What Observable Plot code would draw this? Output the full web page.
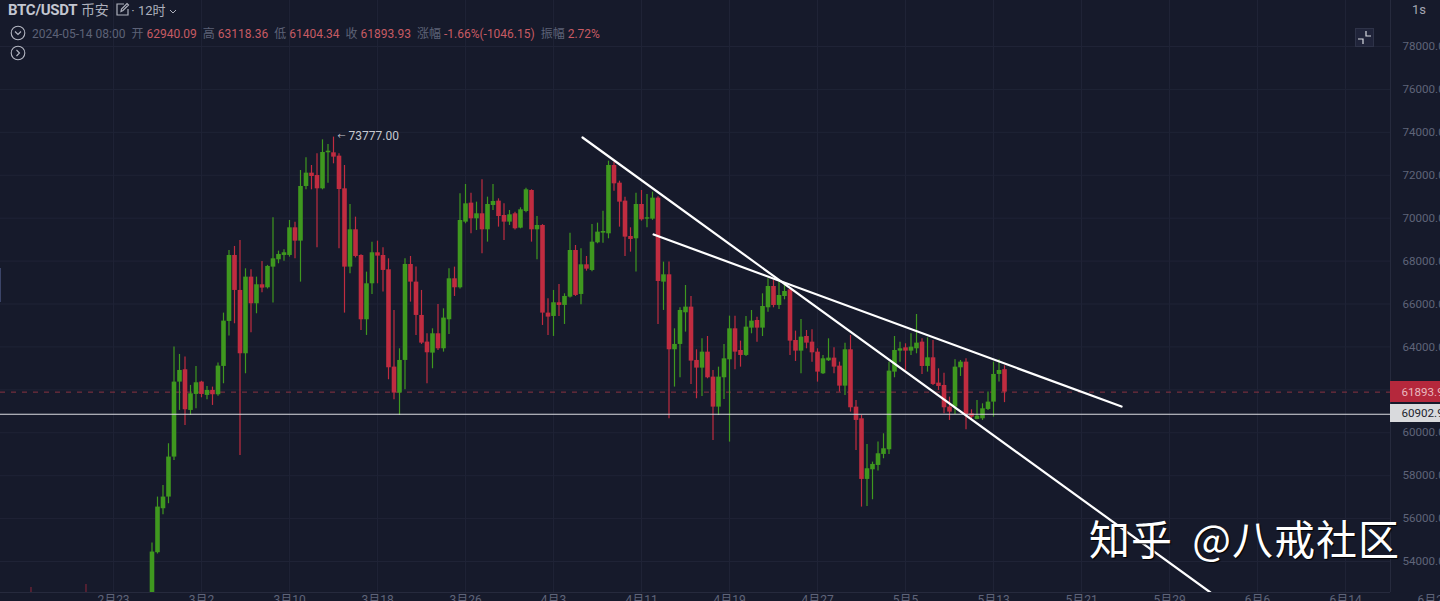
<!DOCTYPE html>
<html lang="zh">
<head>
<meta charset="utf-8">
<title>BTC/USDT 币安 12时</title>
<script src="https://cdn.jsdelivr.net/npm/d3@7"></script>
<script src="https://cdn.jsdelivr.net/npm/@observablehq/plot@0.6"></script>
<style>
html,body{margin:0;padding:0;background:#161a2b;overflow:hidden;width:1440px;height:601px}
#wrap{position:relative;width:1440px;height:601px;overflow:hidden;font-family:Roboto,"Noto Sans CJK SC",sans-serif}
#wrap>svg{display:block}
.ov{position:absolute;white-space:nowrap}
#h1{left:8px;top:1px;font-size:15px;line-height:18px;color:#aeb1bd}
#h1 b{font-weight:700;letter-spacing:-.3px;color:#c3c6d0}
#h2{left:32px;top:27px;font-size:12px;line-height:15px;color:#5d6277}
#h2 span{margin-left:6px}
#h2 .r{color:#c65a63;margin-left:0}
#wm{left:1089px;top:508px;font:400 41px/58px "Noto Sans CJK SC",sans-serif;letter-spacing:1px;word-spacing:9px;color:#fff;text-shadow:1px 1px 1px #000}
</style>
</head>
<body>
<div id="wrap"></div>
<script>
const firstCandle = "2024-02-26T12:00Z";
const opens = [
51730,54410,56460,57003,58867,62361,62935,61041,61786,62361,
61740,61973,61771,63091,65187,68262,66632,63681,67253,66011,
66896,66756,67719,68060,68262,68262,69551,68930,71477,72098,
71990,71368,73046,73046,72890,71368,67719,69458,68262,65265,
66942,68387,68262,67595,63060,61848,63370,67843,67020,65467,
64225,63712,64613,63914,65265,67175,66756,69815,70700,69971,
70204,69458,70592,70794,70126,69815,70204,69536,70312,71290,
69458,69660,65576,65420,66057,65933,66321,68495,66445,67827,
67563,68852,69303,69272,72455,71632,70794,69147,69039,70638,
69955,69955,70933,67020,67361,63867,64116,65591,65855,63370,
63012,63757,62593,61195,62562,63400,64844,63835,63602,64876,
65233,64876,65823,66817,65932,66351,66661,64301,63804,64487,
64223,63757,62748,63353,63478,63105,62173,63866,61195,60651,
57825,58275,58477,58990,59207,62826,63804,63959,63804,63913,
64223,63090,63493,62313,62204,61195,61195,63027,63291,60884,
60620,60651,61086,61428,62717,62940.09];
const highs = [
54860,57003,57547,59488,63992,63650,63526,62206,63091,62400,
62159,62128,63246,65576,68495,68682,68961,67641,67595,67253,
67983,67800,70017,68464,68526,69893,69815,72222,72813,72455,
72999,73651,73434,73777,72999,72455,70638,70048,68300,67486,
68883,68930,68620,68107,65700,63914,68107,68216,67719,66632,
64613,64845,65979,65777,67641,67719,71135,71570,71166,70747,
71788,70980,71570,70902,70669,70359,70281,70483,71400,71322,
70079,69700,66243,66632,66911,66476,69303,68728,68573,68216,
69707,69769,70328,72657,72611,71725,70980,69551,71166,71290,
71104,71213,71000,67952,67952,64845,65824,66864,66352,63867,
64379,64487,62903,63058,64115,65435,65435,64270,65419,65699,
65388,66475,67174,67096,67019,66941,66700,64736,65279,64767,
64798,63913,63602,64379,63959,63291,64177,64534,61505,60807,
59456,58632,59564,59953,63291,64487,64223,64146,64612,65512,
64379,64425,64301,62981,62779,61661,63400,63369,63447,61071,
61505,61350,61894,63291,63400,63118.36];
const lows = [
50900,54350,56180,56693,58711,61041,60342,60808,61119,61631,
61538,61274,61700,62283,64504,65079,58944,62749,64659,65545,
66523,66700,66042,67874,67998,68185,68107,67020,71322,71322,
68620,71322,71632,72533,68573,65576,67408,68150,64768,64535,
66445,66942,66554,62470,61538,60808,62004,66088,64535,64116,
62283,62982,63836,63758,64582,66352,66700,69738,69272,69427,
68340,68883,70359,69582,68961,69660,69450,69505,70250,68883,
68060,65001,64535,64488,65420,65047,66280,66352,65964,67532,
67500,68806,68837,69039,71260,69582,68216,68418,67486,69862,
69551,69900,65047,65700,60652,62128,62563,64690,62252,61584,
61692,62515,59642,60807,61552,59564,62934,63058,63556,64612,
64223,64487,65621,65823,65745,66196,63602,63323,62748,63913,
63291,62360,62717,63322,62748,61894,61738,60962,59176,56536,
56567,56878,58213,58788,58990,62562,63291,62903,63602,63680,
62717,62826,62204,61971,60884,60574,60853,62624,60139,60574,
60605,60574,61040,60729,62360,61404.34];
const closes = [
54441,56537,57003,58867,62361,62904,61072,61817,62330,61786,
61973,61771,63106,65203,68262,66632,63681,67253,66011,66896,
66740,67750,68107,68309,68387,69551,68930,71477,72098,71943,
71368,73061,73123,72844,71337,67719,69458,68216,65265,66942,
68387,68231,67564,63029,61848,63370,67843,67020,65467,64178,
63727,64613,63914,65343,67175,66756,69893,70669,69971,70204,
69458,70638,70778,70079,69815,70157,69505,70390,71322,69458,
69660,65576,65389,66057,65933,66352,68495,66399,67827,67625,
68883,69349,69380,72455,71601,70747,69116,69008,70638,69924,
70017,70933,67051,67361,63867,64116,65700,65855,63339,63013,
63757,62562,61195,62593,63447,64844,63757,63602,64922,65202,
64876,65885,66817,65932,66397,66584,64270,63804,64456,64177,
63726,62826,63447,63478,63058,62173,63866,61164,60574,57825,
58322,58524,59021,59254,62872,63835,63913,63804,63990,64177,
63090,63493,62251,62158,61164,60962,63058,63291,60853,60729,
60775,61117,61428,62717,62903,61893.93];
const earlyTimes = ["2024-02-15T12:00Z","2024-02-20T12:00Z"];
const earlyHighs = [52790,52930];
const earlyLows = [50000,50000];
const gridTicks = ["2024-02-23","2024-03-02","2024-03-10","2024-03-18","2024-03-26","2024-04-03","2024-04-11","2024-04-19","2024-04-27","2024-05-05","2024-05-13","2024-05-21","2024-05-29","2024-06-06","2024-06-14"];
const labelTicks = gridTicks.concat(["2024-06-22"]);
const priceTicks = [54000,56000,58000,60000,62000,64000,66000,68000,70000,72000,74000,76000,78000];
const xDomain = ["2024-02-12T17:28Z","2024-06-18T02:10Z"];
const yDomain = [52556,80144];
const lastPrice = 61893.93;
const levelPrice = 60902.9;
const levelLine = 60860;
const peakTime = "2024-03-14T00:00Z";
const peakPrice = 73777;
const trendA = {t:["2024-04-05T15:20Z","2024-06-01T17:20Z"], p:[73759,52556]};
const trendB = {t:["2024-04-12T02:24Z","2024-05-24T15:20Z"], p:[69239,61224]};
const tagEnd = "2024-06-23T00:00Z";
const redTag = [62389,61410];
const greyTag = [61317,60478];
const GREEN="#3f981f", RED="#c02c40", GRID="#1f2336", AXIS="#5f6479";

const times = opens.map((_,i)=>d3.utcHour.offset(new Date(firstCandle),12*i));
const idx = d3.range(opens.length);
const dir = i => closes[i]>=opens[i]?"up":"down";
const D = s => new Date(s);

const chart = Plot.plot({
  width:1440,height:601,marginLeft:0,marginRight:50,marginTop:0,marginBottom:9,
  style:{background:"#161a2b",fontFamily:'Roboto,"Noto Sans CJK SC",sans-serif',fontSize:"12px",overflow:"hidden"},
  x:{type:"utc",domain:xDomain.map(D)},
  y:{domain:yDomain},
  color:{domain:["up","down"],range:[GREEN,RED]},
  marks:[
    Plot.gridX({ticks:gridTicks.map(D),stroke:GRID,strokeOpacity:1}),
    Plot.gridY({ticks:priceTicks,stroke:GRID,strokeOpacity:1}),
    Plot.ruleX([D(xDomain[1])],{stroke:"#262a3d"}),
    Plot.ruleY([yDomain[0]],{stroke:"#262a3d"}),
    Plot.axisX({ticks:labelTicks.map(D),tickSize:0,tickPadding:3,label:null,fill:AXIS,
      tickFormat:d=>`${d.getUTCMonth()+1}月${d.getUTCDate()}`}),
    Plot.axisY({anchor:"right",ticks:priceTicks,tickSize:0,tickPadding:12,label:null,fill:AXIS,fontSize:11.6,tickFormat:d3.format(".2f")}),
    Plot.ruleY([lastPrice],{stroke:"#8a3342",strokeDasharray:"5 6",strokeWidth:1}),
    Plot.ruleX(earlyTimes.map(D),{x:d=>d,y1:(d,i)=>earlyLows[i],y2:(d,i)=>earlyHighs[i],stroke:RED,strokeWidth:1,strokeOpacity:.7,clip:true}),
    Plot.ruleX(idx,{x:i=>times[i],y1:i=>lows[i],y2:i=>highs[i],stroke:dir,strokeWidth:1.2,clip:true}),
    Plot.ruleX(idx,{x:i=>times[i],y1:i=>opens[i],y2:i=>closes[i],stroke:dir,strokeWidth:4.6,clip:true}),
    Plot.ruleY([levelLine],{stroke:"#dcdde2",strokeWidth:1.1}),
    Plot.line(trendA.t.map((t,i)=>({t:D(t),p:trendA.p[i]})),{x:"t",y:"p",stroke:"#fff",strokeWidth:2.2,clip:true}),
    Plot.line(trendB.t.map((t,i)=>({t:D(t),p:trendB.p[i]})),{x:"t",y:"p",stroke:"#fff",strokeWidth:2.2}),
    Plot.text([0],{x:()=>D(peakTime),y:()=>peakPrice,text:()=>"←",textAnchor:"start",dx:4,dy:-1,fill:"#c6c8d0",fontSize:8}),
    Plot.text([0],{x:()=>D(peakTime),y:()=>peakPrice,text:()=>peakPrice.toFixed(2),textAnchor:"start",dx:15,dy:-1,fill:"#c6c8d0",fontSize:12}),
    Plot.rect([0],{x1:()=>D(xDomain[1]),x2:()=>D(tagEnd),y1:()=>redTag[0],y2:()=>redTag[1],fill:"#b5283c"}),
    Plot.rect([0],{x1:()=>D(xDomain[1]),x2:()=>D(tagEnd),y1:()=>greyTag[0],y2:()=>greyTag[1],fill:"#d9dadd"}),
    Plot.text([0],{x:()=>D(xDomain[1]),y:()=>lastPrice,text:()=>lastPrice.toFixed(2),textAnchor:"start",dx:11,fill:"#e9b8bf",fontSize:11.6}),
    Plot.text([0],{x:()=>D(xDomain[1]),y:()=>levelPrice,text:()=>levelPrice.toFixed(2),textAnchor:"start",dx:11,fill:"#22252f",fontSize:11.6})
  ]
});
const wrap=document.getElementById("wrap");
wrap.append(chart);
wrap.insertAdjacentHTML("beforeend",`
<div class="ov" id="h1"><b>BTC/USDT</b> <span style="font-size:14px">币安</span>
<svg style="vertical-align:-2px;margin-left:2px" width="15" height="15" viewBox="0 0 15 15" fill="none" stroke="#aeb1bd" stroke-width="1.2"><path d="M9 2H2v11h11V7M6 9.5l.5-2.5L12 1.5l1.5 1.5L8 8.5z"/></svg>
<span style="font-size:13px;margin-left:-2px">· 12时</span>
<svg width="8" height="6" viewBox="0 0 8 6" fill="none" stroke="#aeb1bd" stroke-width="1"><path d="M1 1l3 3 3-3"/></svg></div>
<svg class="ov" style="left:10px;top:25px" width="16" height="36" viewBox="0 0 16 36" fill="none" stroke="#b4b7c2" stroke-width="1.1"><circle cx="8" cy="8" r="6.8"/><path d="M5 6.5l3 3 3-3"/><circle cx="8" cy="28" r="6.8"/><path d="M6.5 25l3 3-3 3"/></svg>
<div class="ov" id="h2">2024-05-14 08:00<span>开</span> <span class="r">62940.09</span><span>高</span> <span class="r">63118.36</span><span>低</span> <span class="r">61404.34</span><span>收</span> <span class="r">61893.93</span><span>涨幅</span> <span class="r">-1.66%(-1046.15)</span><span>振幅</span> <span class="r">2.72%</span></div>
<div class="ov" style="left:1412px;top:2px;font-size:13px;line-height:15px;color:#a4a7b3">1s</div>
<svg class="ov" style="left:1355px;top:28px" width="19" height="19" viewBox="0 0 19 19" fill="none"><rect x=".5" y=".5" width="18" height="18" fill="#20243a" stroke="#2e3348"/><path d="M11 3v5h5M3 11h5v5" stroke="#d8dae0" stroke-width="1.2"/></svg>
<div class="ov" style="left:0;top:268px;width:1px;height:34px;background:#3b4468"></div>
<div class="ov" id="wm">知乎 @八戒社区</div>`);
</script>
</body>
</html>
